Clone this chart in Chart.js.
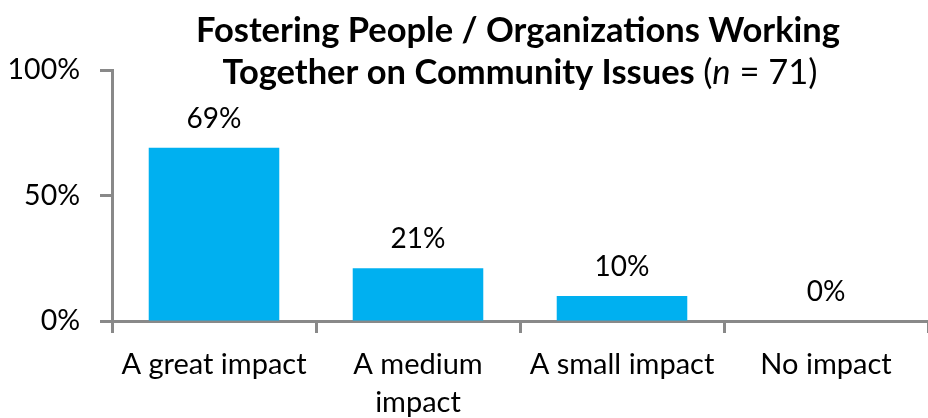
<!DOCTYPE html>
<html>
<head>
<meta charset="utf-8">
<script src="https://cdn.jsdelivr.net/npm/chart.js@4.4.1/dist/chart.umd.min.js"></script>
<style>
  html, body { margin: 0; padding: 0; background: #fff; }
  #wrap { width: 928px; height: 418px; }
</style>
</head>
<body>
<div id="wrap"><canvas id="barChart" width="928" height="418"></canvas></div>
<script>
var categories = ['A great impact', ['A medium', 'impact'], 'A small impact', 'No impact'];
var values     = [69, 21, 10, 0];
var yTicks     = [0, 50, 100];

var FONT      = 'Lato, "Open Sans", sans-serif';
var BAR_COLOR = '#00B0F0';
var AXIS_GREY = '#898989';

//- title drawn over the top of the plot, mixed bold / normal / italic -
var titlePlugin = {
  id: 'mixedTitle',
  afterDraw: function (chart) {
    var ctx = chart.ctx;
    var area = chart.chartArea;
    var cx = (area.left + area.right) / 2;
    ctx.save();
    ctx.fillStyle = '#000';
    ctx.textBaseline = 'alphabetic';

    ctx.font = 'bold 34.5px ' + FONT;
    ctx.textAlign = 'center';
    ctx.fillText('Fostering People / Organizations Working', cx - 2, 42);

    // second line is built from pieces so the n can be italic
    var parts = [
      { text: 'Together on Community Issues ', font: 'bold 34.5px ' + FONT },
      { text: '(', font: '34.5px ' + FONT },
      { text: 'n', font: 'italic 34.5px ' + FONT },
      { text: ' = 71)', font: '34.5px ' + FONT }
    ];
    var total = 0;
    parts.forEach(function (p) {
      ctx.font = p.font;
      p.w = ctx.measureText(p.text).width;
      total += p.w;
    });
    var x = cx - total / 2;
    ctx.textAlign = 'left';
    parts.forEach(function (p) {
      ctx.font = p.font;
      ctx.fillText(p.text, x, 84);
      x += p.w;
    });
    ctx.restore();
  }
};

//- value labels above each bar -
var valueLabels = {
  id: 'valueLabels',
  afterDatasetsDraw: function (chart) {
    var ctx = chart.ctx;
    var meta = chart.getDatasetMeta(0);
    ctx.save();
    ctx.font = '28px ' + FONT;
    ctx.fillStyle = '#000';
    ctx.textAlign = 'center';
    ctx.textBaseline = 'alphabetic';
    meta.data.forEach(function (bar, i) {
      ctx.fillText(values[i] + '%', bar.x, bar.y - 20);
    });
    ctx.restore();
  }
};

var barChartCanvas = document.getElementById('barChart').getContext('2d');
var barChart = new Chart(barChartCanvas, {
  type: 'bar',
  data: {
    labels: categories,
    datasets: [{
      data: values,
      backgroundColor: BAR_COLOR,
      borderWidth: 0,
      barPercentage: 0.64,
      categoryPercentage: 1
    }]
  },
  options: {
    responsive: false,
    animation: false,
    layout: { padding: { top: 70, right: 0, bottom: 0, left: 0 } },
    plugins: {
      legend: { display: false },
      title: { display: false },
      tooltip: { enabled: false }
    },
    scales: {
      x: {
        afterFit: function (scale) { scale.height = 97; },
        border: { color: AXIS_GREY, width: 3 },
        grid: {
          offset: true,
          drawOnChartArea: false,
          drawTicks: true,
          tickLength: 12,
          tickWidth: 3,
          tickColor: AXIS_GREY
        },
        ticks: {
          color: '#000',
          font: { family: FONT, size: 29, lineHeight: 1.33 },
          padding: 12,
          maxRotation: 0,
          autoSkip: false
        }
      },
      y: {
        min: 0,
        max: 100,
        afterFit: function (scale) { scale.width = 112; },
        afterBuildTicks: function (scale) {
          scale.ticks = yTicks.map(function (v) { return { value: v }; });
        },
        border: { color: AXIS_GREY, width: 3 },
        grid: {
          drawOnChartArea: false,
          drawTicks: true,
          tickLength: 12,
          tickWidth: 3,
          tickColor: AXIS_GREY
        },
        ticks: {
          color: '#000',
          font: { family: FONT, size: 28.5 },
          padding: 20,
          callback: function (v) { return v + '%'; }
        }
      }
    }
  },
  plugins: [titlePlugin, valueLabels]
});
</script>
</body>
</html>
